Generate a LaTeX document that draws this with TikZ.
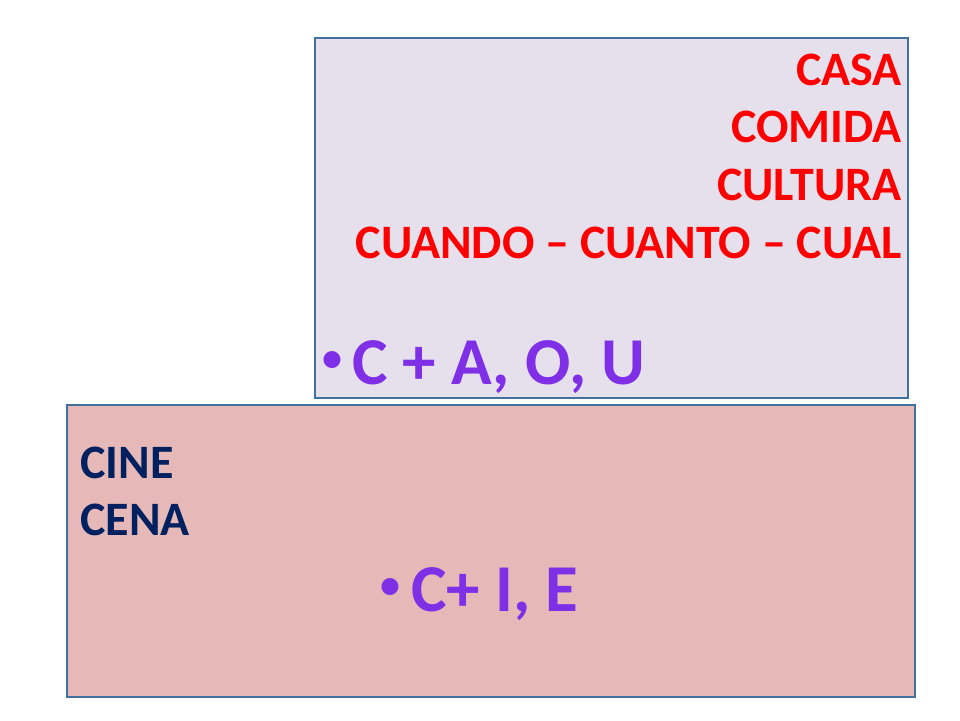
\documentclass[tikz,border=0pt]{standalone}
\usepackage{fontspec}
\setmainfont{Carlito}
\definecolor{boxline}{HTML}{41719C}
\definecolor{lavender}{HTML}{E6E0EC}
\definecolor{rosy}{HTML}{E6B9B8}
\definecolor{violet}{HTML}{7F2FE6}
\definecolor{navy}{HTML}{002060}
\begin{document}
\begin{tikzpicture}[x=1pt,y=-1pt,
	word/.style={font=\fontsize{48}{52}\selectfont\bfseries,inner sep=0pt},
	big/.style={font=\fontsize{67}{72}\selectfont\bfseries,text=violet,inner sep=0pt},
	dot/.style={font=\fontsize{48}{52}\selectfont,text=violet,inner sep=0pt}]
	\useasboundingbox (0,0) rectangle (960,720);
	\draw[boxline,fill=lavender,line width=1.5pt] (315,38) rectangle (908,398);
	\draw[boxline,fill=rosy,line width=1.5pt] (67,405) rectangle (915,697);
	\node[word,text=red,anchor=base east] (casa) at (902,85) {CASA};
	\node[word,text=red,anchor=base east] (comida) at (902,142) {COMIDA};
	\node[word,text=red,anchor=base east] (cultura) at (902,200) {CULTURA};
	\node[word,text=red,anchor=base east] (cuando) at (902,258) {CUANDO – CUANTO – CUAL};
	\node[dot,anchor=base west] (dot1) at (320,373) {•};
	\node[big,anchor=base west] (cao) at (352,384) {C + A, O, U};
	\node[word,text=navy,anchor=base west] (cine) at (80,478) {CINE};
	\node[word,text=navy,anchor=base west] (cena) at (80,535) {CENA};
	\node[dot,anchor=base west] (dot2) at (378,600) {•};
	\node[big,anchor=base west] (cie) at (411,611) {C+ I, E};
\end{tikzpicture}
\end{document}
